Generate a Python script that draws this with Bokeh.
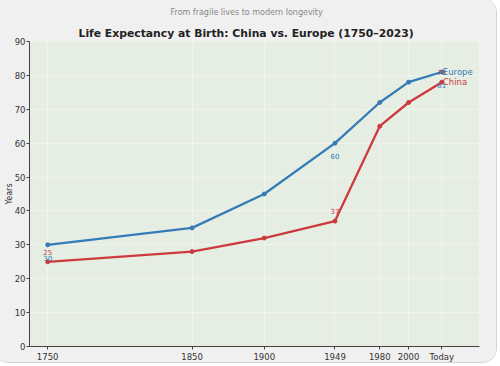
from bokeh.plotting import figure
from bokeh.models import Title, FixedTicker, ColumnDataSource, Range1d
from bokeh.core.properties import value
from bokeh.embed import file_html
from bokeh.resources import INLINE

years = [1750, 1850, 1900, 1949, 1980, 2000, 2023]
tick_labels = ["1750", "1850", "1900", "1949", "1980", "2000", "Today"]
europe = [30, 35, 45, 60, 72, 78, 81]
china = [25, 28, 32, 37, 65, 72, 78]
label_idx = [0, 3, 6]

EU_COLOR = "#347bb7"
CN_COLOR = "#cc3a3e"
FONT = "DejaVu Sans"

p = figure(width=503, height=365, output_backend="svg", toolbar_location=None,
           x_range=Range1d(1737.4, 2049.1), y_range=Range1d(0, 90),
           min_border_left=34, min_border_right=19, min_border_top=40, min_border_bottom=17)
p.styles = {"margin-top": "-2px", "margin-left": "-6px",
            "border": "1px solid #d4d4d4", "border-radius": "14px", "overflow": "hidden"}

p.background_fill_color = "#e6eee3"
p.border_fill_color = "#f0f0f0"
p.outline_line_color = None

# outermost title: subtitle
p.title.text = "From fragile lives to modern longevity"
p.title.text_font = FONT
p.title.text_font_size = "8px"
p.title.text_font_style = "normal"
p.title.text_color = "#888888"
p.title.align = "left"
p.title.offset = 141
p.title.standoff = 12

main = Title(text="Life Expectancy at Birth: China vs. Europe (1750\u20132023)", align="left",
             offset=49, text_font=FONT, text_font_size="10.8px", text_font_style="bold",
             text_color="#222222", standoff=4)
p.add_layout(main, "above")

p.xaxis.ticker = FixedTicker(ticks=years)
p.xaxis.major_label_overrides = {y: l for y, l in zip(years, tick_labels)}
p.yaxis.ticker = FixedTicker(ticks=list(range(0, 91, 10)))
for ax in (p.xaxis, p.yaxis):
    ax.major_label_text_font = FONT
    ax.major_label_text_font_size = "8.5px"
    ax.major_label_text_color = "#333333"
    ax.axis_line_color = "#444444"
    ax.axis_line_width = 1
    ax.major_tick_line_color = "#444444"
    ax.major_tick_in = 0
    ax.major_tick_out = 3
    ax.minor_tick_line_color = None
    ax.major_label_standoff = 2
p.yaxis.major_label_standoff = 1
p.yaxis.axis_label = "Years"
p.yaxis.axis_label_text_font = FONT
p.yaxis.axis_label_text_font_size = "8px"
p.yaxis.axis_label_text_font_style = "normal"
p.yaxis.axis_label_text_color = "#333333"
p.yaxis.axis_label_standoff = -2

p.xgrid.grid_line_color = "#f2f6f0"
p.ygrid.grid_line_color = "#f2f6f0"
p.xgrid.grid_line_alpha = 0.7
p.ygrid.grid_line_alpha = 0.7

src = ColumnDataSource(dict(x=years, eu=europe, cn=china))
p.line("x", "eu", source=src, line_color=EU_COLOR, line_width=2.3)
p.scatter("x", "eu", source=src, color=EU_COLOR, size=4)
p.line("x", "cn", source=src, line_color=CN_COLOR, line_width=2.3)
p.scatter("x", "cn", source=src, color=CN_COLOR, size=4)

lab = ColumnDataSource(dict(
    x=[years[i] for i in label_idx],
    eu=[europe[i] for i in label_idx],
    cn=[china[i] for i in label_idx],
    eut=[str(europe[i]) for i in label_idx],
    cnt=[str(china[i]) for i in label_idx],
))
p.text("x", "eu", text="eut", source=lab, text_color=EU_COLOR, text_font=value(FONT),
       text_font_size="7px", text_align="center", text_baseline="middle", y_offset=13)
p.text("x", "cn", text="cnt", source=lab, text_color=CN_COLOR, text_font=value(FONT),
       text_font_size="7px", text_align="center", text_baseline="middle", y_offset=-10)

end = ColumnDataSource(dict(x=[years[-1], years[-1]], y=[europe[-1], china[-1]],
                            t=["Europe", "China"], c=[EU_COLOR, CN_COLOR]))
p.text("x", "y", text="t", source=end, text_color="c", text_font=value(FONT),
       text_font_size="8.5px", text_align="left", text_baseline="middle", x_offset=1)

open("out.html", "w").write(file_html(p, INLINE))
